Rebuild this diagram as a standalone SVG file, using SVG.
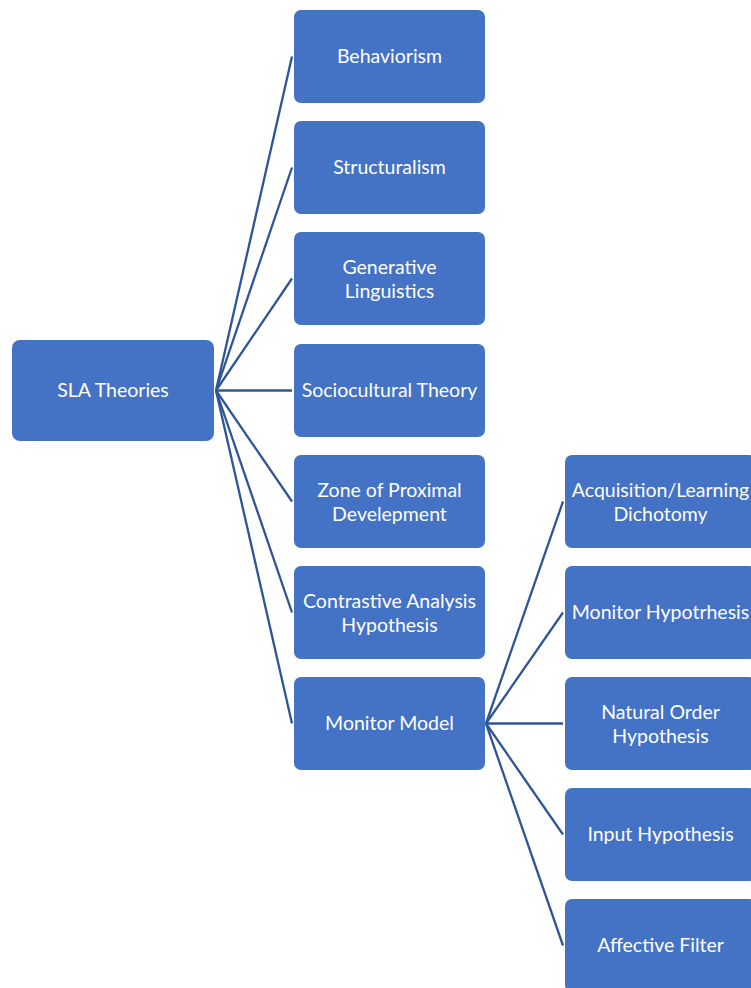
<svg xmlns="http://www.w3.org/2000/svg" width="751" height="988" viewBox="0 0 751 988">
<style>
.box{fill:#4472C4;}
.t{font-family:Lato,"Liberation Sans",sans-serif;font-size:19.5px;font-weight:400;fill:#ffffff;text-anchor:middle;dominant-baseline:central;}
.c line{stroke:#2F5597;stroke-width:2.3;}
</style>
<rect width="751" height="988" fill="#ffffff"/>
<g class="c" id="connectors">
<line x1="216" y1="390.5" x2="292" y2="56.5"/>
<line x1="216" y1="390.5" x2="292" y2="167.5"/>
<line x1="216" y1="390.5" x2="292" y2="278.5"/>
<line x1="216" y1="390.5" x2="292" y2="390.5"/>
<line x1="216" y1="390.5" x2="292" y2="501.5"/>
<line x1="216" y1="390.5" x2="292" y2="612.5"/>
<line x1="216" y1="390.5" x2="292" y2="723.5"/>
<line x1="486" y1="723.5" x2="563" y2="501.5"/>
<line x1="486" y1="723.5" x2="563" y2="612.5"/>
<line x1="486" y1="723.5" x2="563" y2="723.5"/>
<line x1="486" y1="723.5" x2="563" y2="834.5"/>
<line x1="486" y1="723.5" x2="563" y2="945.5"/>
</g>
<g id="root"><rect class="box" x="12" y="340" width="202" height="101" rx="8"/><text class="t" x="113" y="389.5">SLA Theories</text></g>
<g id="behaviorism"><rect class="box" x="294" y="10" width="191" height="93" rx="7"/><text class="t" x="389.5" y="55.5">Behaviorism</text></g>
<g id="structuralism"><rect class="box" x="294" y="121" width="191" height="93" rx="7"/><text class="t" x="389.5" y="166.5">Structuralism</text></g>
<g id="generative"><rect class="box" x="294" y="232" width="191" height="93" rx="7"/><text class="t" x="389.5" y="266">Generative</text><text class="t" x="389.5" y="290">Linguistics</text></g>
<g id="sociocultural"><rect class="box" x="294" y="344" width="191" height="93" rx="7"/><text class="t" x="389.5" y="389.5">Sociocultural Theory</text></g>
<g id="zpd"><rect class="box" x="294" y="455" width="191" height="93" rx="7"/><text class="t" x="389.5" y="489">Zone of Proximal</text><text class="t" x="389.5" y="513">Develepment</text></g>
<g id="contrastive"><rect class="box" x="294" y="566" width="191" height="93" rx="7"/><text class="t" x="389.5" y="600">Contrastive Analysis</text><text class="t" x="389.5" y="624">Hypothesis</text></g>
<g id="monitor-model"><rect class="box" x="294" y="677" width="191" height="93" rx="7"/><text class="t" x="389.5" y="722.5">Monitor Model</text></g>
<g id="acquisition"><rect class="box" x="565" y="455" width="191" height="93" rx="7"/><text class="t" x="660.5" y="489">Acquisition/Learning</text><text class="t" x="660.5" y="513">Dichotomy</text></g>
<g id="monitor-hyp"><rect class="box" x="565" y="566" width="191" height="93" rx="7"/><text class="t" x="660.5" y="611.5">Monitor Hypotrhesis</text></g>
<g id="natural-order"><rect class="box" x="565" y="677" width="191" height="93" rx="7"/><text class="t" x="660.5" y="711">Natural Order</text><text class="t" x="660.5" y="735">Hypothesis</text></g>
<g id="input"><rect class="box" x="565" y="788" width="191" height="93" rx="7"/><text class="t" x="660.5" y="833.5">Input Hypothesis</text></g>
<g id="affective"><rect class="box" x="565" y="899" width="191" height="93" rx="7"/><text class="t" x="660.5" y="944.5">Affective Filter</text></g>
</svg>
